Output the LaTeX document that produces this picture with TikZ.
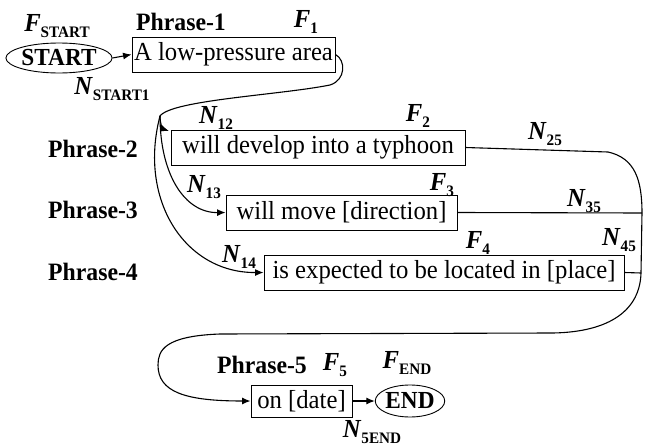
\documentclass[tikz,border=0pt]{standalone}
\usepackage{fontspec}
\setmainfont{Liberation Serif}[FakeStretch=0.95]
\usetikzlibrary{arrows.meta,shapes.geometric}

% bold italic symbol with a bold upright subscript
\newcommand{\symlab}[2]{\textbf{\textit{#1}}\raisebox{-5.5pt}{\fontsize{16}{16}\selectfont\bfseries #2}}

\tikzset{
  phrasebox/.style={draw, line width=0.9pt, inner sep=0pt, minimum height=35pt,
    font=\fontsize{26}{28}\selectfont},
  termnode/.style={draw, ellipse, line width=0.9pt, inner sep=0pt,
    font=\fontsize{24.5}{26}\selectfont\bfseries},
  symnode/.style={inner sep=0pt, font=\fontsize{26}{28}\selectfont},
  phraselab/.style={inner sep=0pt, font=\fontsize{25}{27}\selectfont\bfseries},
  link/.style={line width=1.1pt},
  arr/.style={link, -{Latex[length=8.5pt,width=7pt]}}
}

\begin{document}
\begin{tikzpicture}[x=1pt,y=-1pt]
\useasboundingbox (0,0) rectangle (649,447);

% start / end terminals
\node[termnode, minimum width=90pt, minimum height=30pt] (start) at (59,58) {START};
\node[termnode, minimum width=64pt, minimum height=32pt] (end) at (410,401) {END};

% phrase boxes
\node[phrasebox, minimum width=203pt] (b1) at (233.5,54.5) {A low-pressure area};
\node[phrasebox, minimum width=294pt] (b2) at (318,147.5) {will develop into a typhoon};
\node[phrasebox, minimum width=231pt] (b3) at (341.5,212.5) {will move [direction]};
\node[phrasebox, minimum width=360pt] (b4) at (444,272.5) {is expected to be located in [place]};
\node[phrasebox, minimum width=101pt, minimum height=32pt] (b5) at (301.5,401) {on [date]};

% phrase labels
\node[phraselab] (p1) at (181,22) {Phrase-1};
\node[phraselab] (p2) at (93,149) {Phrase-2};
\node[phraselab] (p3) at (93,210) {Phrase-3};
\node[phraselab] (p4) at (93,272) {Phrase-4};
\node[phraselab] (p5) at (262,365) {Phrase-5};

% node symbols
\node[symnode] (fstart) at (57,26) {\symlab{F}{START}};
\node[symnode] (f1) at (306,22) {\symlab{F}{1}};
\node[symnode] (f2) at (418,116) {\symlab{F}{2}};
\node[symnode] (f3) at (442,185) {\symlab{F}{3}};
\node[symnode] (f4) at (478,243) {\symlab{F}{4}};
\node[symnode] (f5) at (335,365) {\symlab{F}{5}};
\node[symnode] (fend) at (407,363) {\symlab{F}{END}};

% link symbols
\node[symnode] (nstart1) at (112,89) {\symlab{N}{START1}};
\node[symnode] (n12) at (216,118) {\symlab{N}{12}};
\node[symnode] (n13) at (204,187) {\symlab{N}{13}};
\node[symnode] (n14) at (239,257) {\symlab{N}{14}};
\node[symnode] (n25) at (545,134) {\symlab{N}{25}};
\node[symnode] (n35) at (584,201) {\symlab{N}{35}};
\node[symnode] (n45) at (619,240) {\symlab{N}{45}};
\node[symnode] (n5end) at (372,432) {\symlab{N}{5END}};

% branching and merging points
\coordinate (j) at (160,116);
\coordinate (b2in) at (169,131);
\coordinate (r2) at (608,152);
\coordinate (r3) at (642,213);
\coordinate (r4) at (641,273);

% START -> Phrase-1
\draw[arr] (start.east) -- (b1.west);

% Phrase-1 -> branch point -> Phrase-2
\draw[arr] (b1.east) .. controls (346,60) and (346,80) .. (330,85)
  .. controls (280,95) and (172,100) .. (j)
  .. controls (160,124) and (163,129) .. (b2in);

% branch point -> Phrase-3 and Phrase-4
\draw[arr] (j) .. controls (160,175) and (185,213) .. (b3.west);
\draw[arr] (j) .. controls (138,200) and (185,273) .. (b4.west);

% Phrase-2/3/4 -> Phrase-5
\draw[link] (b3.east) -- (r3);
\draw[link] (b4.east) -- (r4);
\draw[arr] (b2.east) -- (r2) .. controls (635,158) and (642,180) .. (r3) -- (r4)
  .. controls (640,310) and (610,332) .. (553,333) -- (220,334)
  .. controls (165,336) and (158,350) .. (158,365)
  .. controls (158,392) and (185,401) .. (b5.west);

% Phrase-5 -> END
\draw[arr] (b5.east) -- (end.west);
\end{tikzpicture}
\end{document}
